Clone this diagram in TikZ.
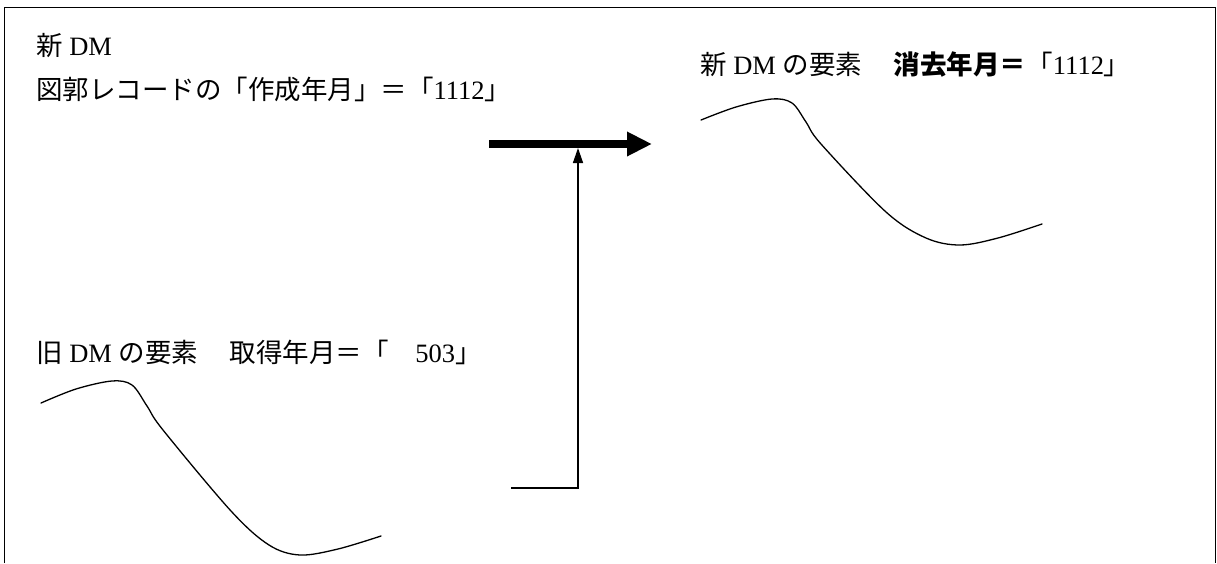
\documentclass[tikz,border=0pt]{standalone}
\usepackage{fontspec}
\setmainfont{Liberation Serif}
\newfontfamily\cjk{Noto Sans CJK JP}
\newcommand{\jp}[1]{{\cjk #1}}
\usetikzlibrary{arrows.meta,positioning}

\begin{document}
\begin{tikzpicture}[x=1pt,y=-1pt,
  labeltext/.style={anchor=west,inner sep=0pt,font=\fontsize{26.5pt}{31pt}\selectfont},
  wave/.style={line width=1.3pt,line cap=round,line join=round},
  thinarrow/.style={line width=1.4pt,-{Triangle[length=15pt,width=10pt]}},
  thickarrow/.style={line width=8pt,-{Triangle[length=25pt,width=23pt]}}]
\useasboundingbox (0,0) rectangle (1217,563);
% open frame
\draw[line width=1.5pt] (4.5,563) -- (4.5,7.5) -- (1215.5,7.5) -- (1215.5,563);
% texts
\node[labeltext] (newdm) at (36,46) {\jp{新} DM};
\node[labeltext] (tilerec) at (36,89) {\jp{図郭レコードの「作成年月」＝「}1112\jp{」}};
\node[labeltext] (newelem) at (700,65) {\jp{新} DM \jp{の要素}\hspace{1.2em}{\bfseries\jp{消去年月＝}}\jp{「}1112\jp{」}};
\node[labeltext] (oldelem) at (36,352) {\jp{旧} DM \jp{の要素}\hspace{1.2em}\jp{取得年月＝「}\hspace{1em}503\jp{」}};
% element outlines
\draw[wave,shift={(701,120)}] plot[smooth,tension=0.55] coordinates
  {(0,0) (35,-13) (71,-21) (91,-17) (105,2) (120,24) (185,92) (225,118) (259,125) (297,118) (341,104)};
\draw[wave,shift={(41,403)}] plot[smooth,tension=0.55] coordinates
  {(0,0) (35,-14) (71,-22) (91,-18) (106,3) (122,27) (190,108) (228,142) (259,152) (297,146) (340,133)};
% arrows
\coordinate (pushstart) at (489,144);
\coordinate (pushend) at (652,144);
\draw[thickarrow] (pushstart) -- (pushend);
\coordinate (feedstart) at (511,488);
\coordinate (feedend) at (578,148);
\draw[thinarrow] (feedstart) -| (feedend);
\end{tikzpicture}
\end{document}
